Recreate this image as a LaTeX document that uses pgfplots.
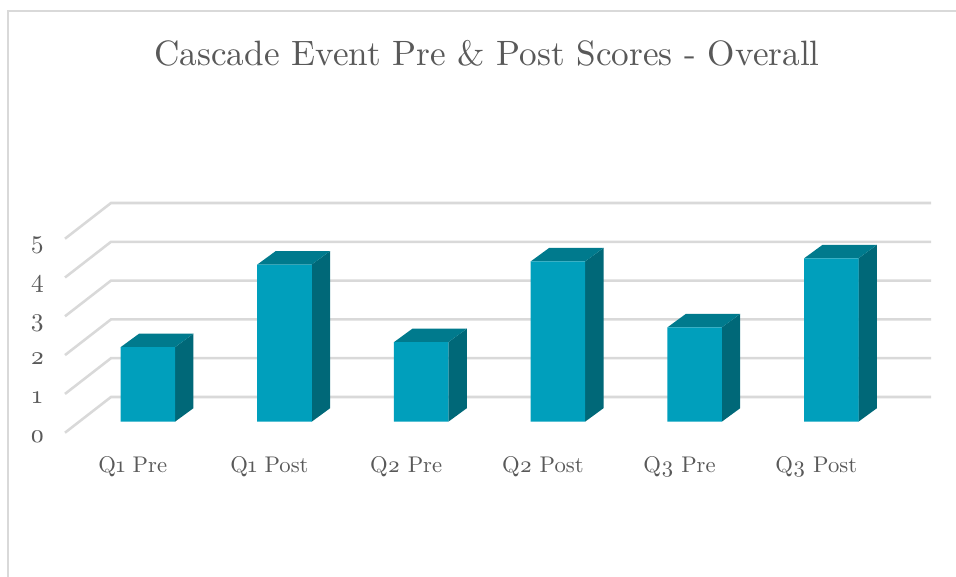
\documentclass[border=0pt]{standalone}
\usepackage{fontspec}
\setmainfont{lmroman10-regular.otf}[Numbers=OldStyle]
\usepackage{pgfplots}
\pgfplotsset{compat=1.18}
\definecolor{txt}{HTML}{595959}
\definecolor{gridc}{HTML}{D9D9D9}
\definecolor{frontc}{HTML}{009FBC}
\definecolor{topc}{HTML}{007A8D}
\definecolor{sidec}{HTML}{006878}
\pgfplotsset{
  side/.style={fill=sidec, draw=none, mark=none},
  topf/.style={fill=topc, draw=none, mark=none},
}
\begin{document}
\begin{tikzpicture}
% page is 956x577 px at 0.75pt per px
\fill[white] (0,0) rectangle (717pt,432.75pt);
\useasboundingbox (0,0) rectangle (717pt,432.75pt);
\draw[gridc, line width=1.1pt] (6pt,0) -- (6pt,424.5pt) -- (717pt,424.5pt);
\begin{axis}[
    at={(48.75pt,108.225pt)},
    anchor=south west,
    scale only axis,
    width=649.5pt,
    height=172.275pt,
    xmin=-0.6057, xmax=5.7297,
    ymin=-0.2835, ymax=5.6366,
    clip=false,
    axis line style={draw=none},
    tick style={draw=none},
    xtick={-0.11,0.89,1.89,2.89,3.89,4.89},
    xticklabels={Q1 Pre, Q1 Post, Q2 Pre, Q2 Post, Q3 Pre, Q3 Post},
    ytick={-0.2835,0.7165,1.7165,2.7165,3.7165,4.7165},
    yticklabels={0,1,2,3,4,5},
    tick label style={font=\fontsize{17pt}{20pt}\selectfont, text=txt},
    x tick label style={anchor=base, yshift=-29.8pt},
    y tick label style={font=\fontsize{19pt}{22pt}\selectfont, anchor=base, xshift=-20.75pt, yshift=-7.3pt},
    title={Cascade Event Pre \& Post Scores - Overall},
    title style={font=\fontsize{26.4pt}{32pt}\selectfont, text=txt, anchor=base,
      at={(axis description cs:0.4873,1.5616)}},
    unbounded coords=jump,
]
% gridlines: front edge, back corner, back wall
\addplot[gridc, line width=1.9pt, mark=none] coordinates {
  (-0.6057,-0.2835) (-0.2692,0.6366) (5.7297,0.6366) (nan,nan)
  (-0.6057,0.7165) (-0.2692,1.6366) (5.7297,1.6366) (nan,nan)
  (-0.6057,1.7165) (-0.2692,2.6366) (5.7297,2.6366) (nan,nan)
  (-0.6057,2.7165) (-0.2692,3.6366) (5.7297,3.6366) (nan,nan)
  (-0.6057,3.7165) (-0.2692,4.6366) (5.7297,4.6366) (nan,nan)
  (-0.6057,4.7165) (-0.2692,5.6366) (5.7297,5.6366)
};
% side faces
\addplot[side] coordinates {(0.199,0) (0.334,0.348) (0.334,2.268) (0.199,1.92)} --cycle;
\addplot[side] coordinates {(1.199,0) (1.334,0.348) (1.334,4.398) (1.199,4.05)} --cycle;
\addplot[side] coordinates {(2.199,0) (2.334,0.348) (2.334,2.398) (2.199,2.05)} --cycle;
\addplot[side] coordinates {(3.199,0) (3.334,0.348) (3.334,4.478) (3.199,4.13)} --cycle;
\addplot[side] coordinates {(4.199,0) (4.334,0.348) (4.334,2.778) (4.199,2.43)} --cycle;
\addplot[side] coordinates {(5.199,0) (5.334,0.348) (5.334,4.558) (5.199,4.21)} --cycle;
% top faces
\addplot[topf] coordinates {(-0.199,1.92) (0.199,1.92) (0.334,2.268) (-0.064,2.268)} --cycle;
\addplot[topf] coordinates {(0.801,4.05) (1.199,4.05) (1.334,4.398) (0.936,4.398)} --cycle;
\addplot[topf] coordinates {(1.801,2.05) (2.199,2.05) (2.334,2.398) (1.936,2.398)} --cycle;
\addplot[topf] coordinates {(2.801,4.13) (3.199,4.13) (3.334,4.478) (2.936,4.478)} --cycle;
\addplot[topf] coordinates {(3.801,2.43) (4.199,2.43) (4.334,2.778) (3.936,2.778)} --cycle;
\addplot[topf] coordinates {(4.801,4.21) (5.199,4.21) (5.334,4.558) (4.936,4.558)} --cycle;
% front faces
\addplot[ybar, bar width=40.9pt, fill=frontc, draw=none] coordinates {
  (0,1.92) (1,4.05) (2,2.05) (3,4.13) (4,2.43) (5,4.21)
};
\end{axis}
\end{tikzpicture}
\end{document}
